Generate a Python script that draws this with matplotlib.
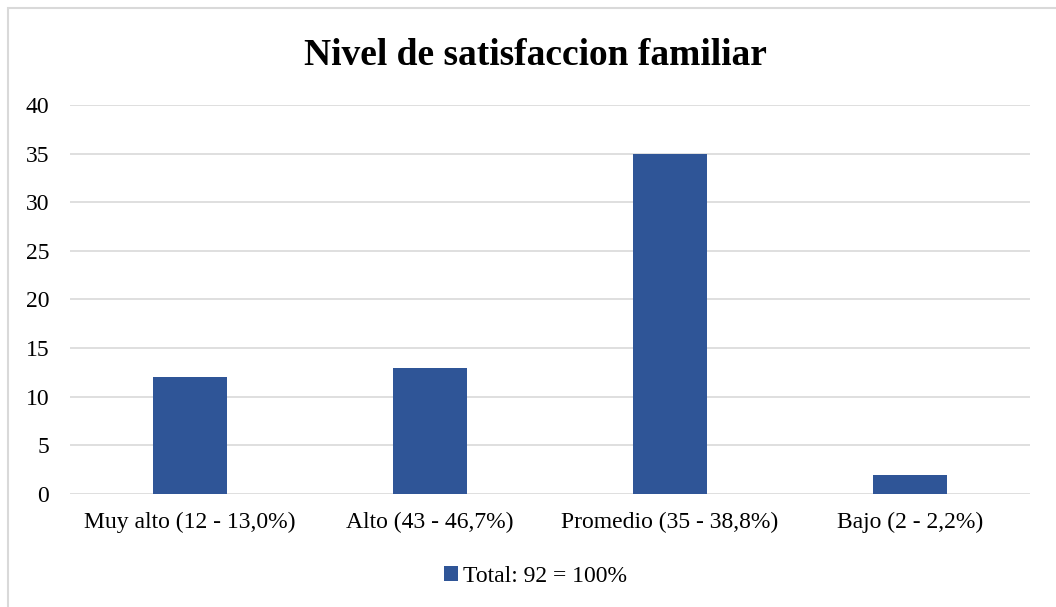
import matplotlib.pyplot as plt
from matplotlib.patches import Rectangle

categorias = ["Muy alto (12 - 13,0%)", "Alto (43 - 46,7%)", "Promedio (35 - 38,8%)", "Bajo (2 - 2,2%)"]
valores = [12, 13, 35, 2]
serie = "Total: 92 = 100%"
yticks = [0, 5, 10, 15, 20, 25, 30, 35, 40]

plt.rcParams['font.family'] = ['Liberation Serif', 'DejaVu Serif']

fig = plt.figure(figsize=(10.56, 6.07), dpi=100)
ax = fig.add_axes([0.0663, 0.1862, 0.9091, 0.6409])

# marco del grafico
fig.patches.append(Rectangle((8 / 1056, -0.05), 1.1, 1 - 8 / 607 + 0.05, transform=fig.transFigure,
                             fill=False, edgecolor="#D9D9D9", linewidth=1.5))

x = range(len(categorias))
ax.bar(x, valores, width=0.31, color="#2F5597", label=serie, zorder=3)

ax.set_xlim(-0.5, len(categorias) - 0.5)
ax.set_ylim(0, 40)
ax.set_yticks(yticks)
ax.set_xticks(list(x))
ax.set_xticklabels(categorias)
ax.grid(axis="y", color="#D9D9D9", linewidth=1.2, zorder=0)
for s in ax.spines.values():
    s.set_visible(False)
ax.tick_params(axis="both", length=0, labelsize=17, colors="#000000")
ax.tick_params(axis="y", pad=15)
ax.tick_params(axis="x", pad=13)

fig.text(0.5067, 0.909, "Nivel de satisfaccion familiar", ha="center", va="center",
         fontsize=27, fontweight="bold")

fig.legend(loc="center", bbox_to_anchor=(0.507, 0.05), frameon=False, fontsize=17,
           handlelength=0.6, handleheight=0.6, handletextpad=0.2)

fig.savefig("out.png", dpi=100)
